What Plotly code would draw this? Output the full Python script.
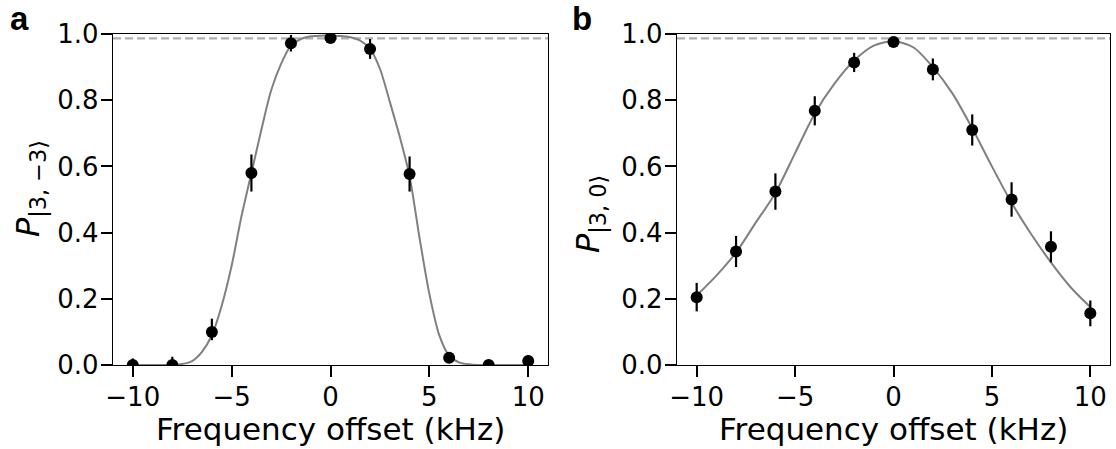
import plotly.graph_objects as go

# ---------- data ----------
freq = [-10, -8, -6, -4, -2, 0, 2, 4, 6, 8, 10]

# panel a : P|3,-3>
pa = [0.0, 0.0, 0.10, 0.58, 0.972, 0.988, 0.955, 0.577, 0.022, 0.0, 0.012]
pa_err_up = [0.02, 0.025, 0.04, 0.056, 0.025, 0.015, 0.03, 0.053, 0.015, 0.01, 0.018]
pa_err_dn = [0.0, 0.0, 0.025, 0.056, 0.025, 0.015, 0.03, 0.053, 0.015, 0.0, 0.012]

fit_a_x = [-10, -9, -8, -7.5, -7, -6.5, -6, -5.5, -5, -4.5, -4, -3.5, -3, -2.5, -2, -1.5, -1, -0.5,
           0, 0.5, 1, 1.5, 2, 2.5, 3, 3.5, 4, 4.5, 5, 5.5, 6, 6.5, 7, 7.5, 8, 9, 10]
fit_a_y = [0.0, 0.0, 0.0, 0.003, 0.012, 0.04, 0.09, 0.18, 0.30, 0.45, 0.58, 0.71, 0.83, 0.91, 0.965,
           0.985, 0.993, 0.995, 0.995, 0.994, 0.99, 0.98, 0.955, 0.895, 0.795, 0.69, 0.57, 0.385,
           0.215, 0.09, 0.028, 0.008, 0.002, 0.0, 0.0, 0.0, 0.0]

# panel b : P|3,0>
pb = [0.205, 0.343, 0.524, 0.768, 0.914, 0.976, 0.893, 0.71, 0.50, 0.357, 0.156]
pb_err = [0.043, 0.047, 0.055, 0.044, 0.029, 0.015, 0.033, 0.047, 0.052, 0.047, 0.039]

fit_b_x = [-10, -9, -8, -7, -6, -5, -4, -3, -2, -1, 0, 1, 2, 3, 4, 5, 6, 7, 8, 9, 10]
fit_b_y = [0.21, 0.27, 0.34, 0.43, 0.52, 0.64, 0.76, 0.85, 0.92, 0.965, 0.978, 0.96, 0.90, 0.82,
           0.715, 0.60, 0.49, 0.395, 0.31, 0.235, 0.175]

ref_level = 0.987

xticks = [-10, -5, 0, 5, 10]
yticks = [0.0, 0.2, 0.4, 0.6, 0.8, 1.0]

x_title = "Frequency offset (kHz)"
y_title_a = "<i>P</i><sub>|3, −3⟩</sub>"
y_title_b = "<i>P</i><sub>|3, 0⟩</sub>"

# ---------- figure ----------
W, H = 1116, 449
fig = go.Figure()

curve_col = "#808080"
dash_col = "#b0b0b0"


def add_panel(xa, ya, fx, fy, py, up, dn):
    fig.add_trace(go.Scatter(x=fx, y=fy, mode="lines", xaxis=xa, yaxis=ya,
                             line=dict(color=curve_col, width=2, shape="spline", smoothing=0.8),
                             showlegend=False, hoverinfo="skip"))
    fig.add_trace(go.Scatter(x=freq, y=py, mode="markers", xaxis=xa, yaxis=ya,
                             marker=dict(color="black", size=12),
                             error_y=dict(type="data", symmetric=False, array=up, arrayminus=dn,
                                          color="black", thickness=2.2, width=0),
                             showlegend=False))


add_panel("x", "y", fit_a_x, fit_a_y, pa, pa_err_up, pa_err_dn)
add_panel("x2", "y2", fit_b_x, fit_b_y, pb, pb_err, pb_err)

ydom = [1 - 365 / H, 1 - 34 / H]
xdom1 = [113 / W, 548 / W]
xdom2 = [677 / W, 1110 / W]

tickfont = dict(family="DejaVu Sans", size=26, color="black")
xtitlefont = dict(family="DejaVu Sans", size=31, color="black")
ytitlefont = dict(family="DejaVu Sans", size=32, color="black")

axis_common = dict(showgrid=False, zeroline=False, showline=True, mirror=True,
                   linecolor="black", linewidth=1.3, ticks="outside", ticklen=11,
                   tickwidth=1.5, tickcolor="black", tickfont=tickfont, automargin=False)

fig.update_layout(
    width=W, height=H,
    margin=dict(l=0, r=0, t=0, b=0, pad=0),
    paper_bgcolor="white", plot_bgcolor="white",
    xaxis=dict(domain=xdom1, range=[-11, 11], tickvals=xticks, anchor="y",
               ticklabelstandoff=-2, **axis_common),
    yaxis=dict(domain=ydom, range=[0, 1.0], tickvals=yticks, tickformat=".1f", anchor="x",
               ticklabelstandoff=-3, **axis_common),
    xaxis2=dict(domain=xdom2, range=[-11, 11], tickvals=xticks, anchor="y2",
                ticklabelstandoff=-2, **axis_common),
    yaxis2=dict(domain=ydom, range=[0, 1.0], tickvals=yticks, tickformat=".1f", anchor="x2",
                ticklabelstandoff=-3, **axis_common),
)

for xr in ["x", "x2"]:
    yr = "y" if xr == "x" else "y2"
    fig.add_shape(type="line", xref=f"{xr} domain", yref=yr, x0=0, x1=1,
                  y0=ref_level, y1=ref_level, layer="below",
                  line=dict(color=dash_col, width=2.2, dash="8px,4px"))

# x-axis titles
for dom in [xdom1, xdom2]:
    fig.add_annotation(text=x_title, xref="paper", yref="paper",
                       x=(dom[0] + dom[1]) / 2, y=1 - 429 / H, showarrow=False,
                       font=xtitlefont, xanchor="center", yanchor="middle")

# y-axis titles
fig.add_annotation(text=y_title_a, xref="paper", yref="paper",
                   x=30 / W, y=1 - 189 / H, textangle=-90, showarrow=False,
                   font=ytitlefont, xanchor="center", yanchor="middle")
fig.add_annotation(text=y_title_b, xref="paper", yref="paper",
                   x=590 / W, y=1 - 214 / H, textangle=-90, showarrow=False,
                   font=ytitlefont, xanchor="center", yanchor="middle")

# panel letters
for letter, px in [("a", 8), ("b", 570)]:
    fig.add_annotation(text=f"<b>{letter}</b>", xref="paper", yref="paper",
                       x=px / W, y=1 + 2 / H, xanchor="left", yanchor="top", showarrow=False,
                       font=dict(family="Liberation Sans", size=33, color="black"))

fig.write_html("out.html")
